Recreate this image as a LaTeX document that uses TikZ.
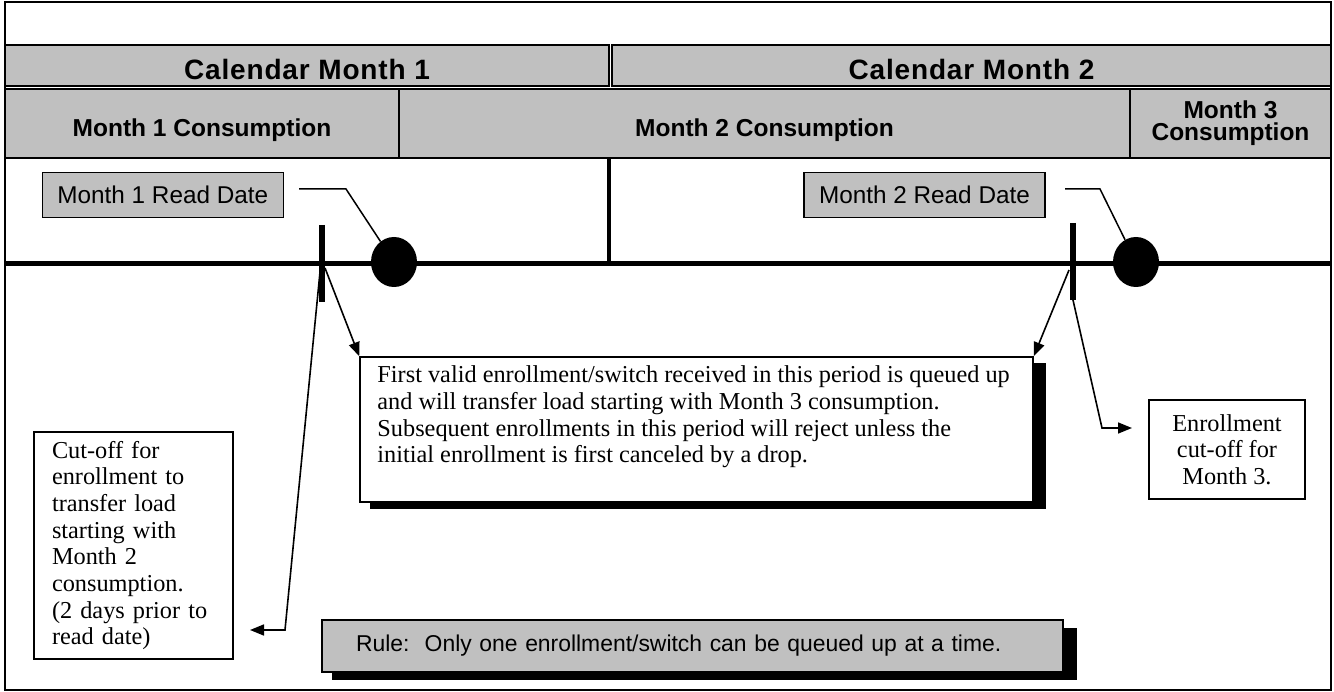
\documentclass[tikz,border=0pt]{standalone}
\usepackage{fontspec}
\setmainfont{Liberation Serif}
\newfontfamily\lsans{Liberation Sans}
\usetikzlibrary{shapes.geometric,arrows.meta}
\definecolor{boxgray}{RGB}{192,192,192}
\newcommand\calfont{\lsans\bfseries\fontsize{28}{30}\selectfont\addfontfeature{LetterSpace=3}}
\newcommand\consfont{\lsans\bfseries\fontsize{24.5}{23}\selectfont}
\newcommand\datefont{\lsans\fontsize{24.3}{26}\selectfont}
\newcommand\rulefont{\lsans\fontsize{22.9}{26}\selectfont}
\newcommand\notefont{\rmfamily\fontsize{24.3}{26.7}\selectfont}
\begin{document}
\begin{tikzpicture}[x=1pt,y=-1pt,
  cell/.style={draw, line width=2.5pt, fill=boxgray, inner sep=0pt},
  datebox/.style={draw, line width=1.5pt, fill=boxgray, inner sep=0pt, minimum width=241, minimum height=44.6, font=\datefont},
  notebox/.style={draw, line width=1.5pt, fill=white, inner sep=0pt, font=\notefont},
  notetext/.style={inner sep=0pt, align=left, font=\notefont},
  dot/.style={ellipse, fill=black, minimum width=46, minimum height=50, inner sep=0pt},
  tickmark/.style={line width=6pt},
  arr/.style={line width=1.6pt, -{Triangle[length=14pt,width=11pt]}},
  lead/.style={line width=1.5pt},
  shadow/.style={fill=black}
]
\useasboundingbox (0,0) rectangle (1334,692);
% frame
\draw[line width=2pt] (5,2) rectangle (1331,690);
% calendar row
\node[cell, minimum width=604, minimum height=41, text height=29pt, text depth=0pt, font=\calfont] (cal1) at (307,65.5) {Calendar Month 1};
\node[cell, minimum width=719, minimum height=41, text height=29pt, text depth=0pt, font=\calfont] (cal2) at (971.5,65.5) {Calendar Month 2};
% consumption row
\node[cell, minimum width=394, minimum height=69, text height=27pt, text depth=0pt, font=\consfont] (cons1) at (202,123.5) {Month 1 Consumption};
\node[cell, minimum width=731, minimum height=69, text height=27pt, text depth=0pt, font=\consfont] (cons2) at (764.5,123.5) {Month 2 Consumption};
\node[cell, minimum width=201, minimum height=69, align=center, font=\consfont] (cons3) at (1230.5,123.5) {Month 3\\[-1pt]Consumption};
% timeline
\coordinate (tlL) at (5,264);
\coordinate (tlR) at (1331,264);
\draw[line width=5pt] (tlL) -- (tlR);
\coordinate (divT) at (609,158);
\coordinate (divB) at (609,264);
\draw[line width=3.5pt] (divT) -- (divB);
% read dates
\node[datebox] (rd1) at (162.8,195) {Month 1 Read Date};
\node[datebox] (rd2) at (924.5,195) {Month 2 Read Date};
% dots
\node[dot] (c1) at (394,262) {};
\node[dot] (c2) at (1136,262) {};
% leaders
\coordinate (l1a) at (299,189);
\coordinate (l1b) at (346,189);
\draw[lead] (l1a) -- (l1b) -- (c1);
\coordinate (l2a) at (1065,189);
\coordinate (l2b) at (1100,189);
\draw[lead] (l2a) -- (l2b) -- (c2);
% ticks
\coordinate (t1a) at (321.5,225);
\coordinate (t1b) at (321.5,302);
\draw[tickmark] (t1a) -- (t1b);
\coordinate (t2a) at (1072.5,223);
\coordinate (t2b) at (1072.5,300);
\draw[tickmark] (t2a) -- (t2b);
% big note box
\fill[shadow] (370,363) rectangle (1046,509);
\node[notebox, minimum width=673, minimum height=145] (q) at (696.5,429.5) {};
\node[notetext, anchor=north west] (qt) at ([shift={(18,9.5)}]q.north west) {First valid enrollment/switch received in this period is queued up\\and will transfer load starting with Month 3 consumption.\\Subsequent enrollments in this period will reject unless the\\initial enrollment is first canceled by a drop.};
% left box
\node[notebox, minimum width=199, minimum height=227, text width=163, inner xsep=18pt, align=left] (lb) at (133.5,545.5) {Cut-off for\\enrollment to\\transfer load\\starting with\\Month 2\\consumption.\\(2 days prior to\\read date)};
% right box
\node[notebox, minimum width=156, minimum height=99, align=center] (rb) at (1227,449.5) {Enrollment\\cut-off for\\Month 3.};
% rule box
\fill[shadow] (332,628) rectangle (1077,680);
\node[draw, line width=1.5pt, fill=boxgray, inner ysep=0pt, inner xsep=34pt, text width=673, minimum height=52, align=left, font=\rulefont] (rule) at (692.5,646) {Rule:\ \ Only one enrollment/switch can be queued up at a time.};
% arrows
\coordinate (a1) at (325,268);
\draw[arr] (a1) -- (q.north west);
\coordinate (a2) at (320,272);
\coordinate (a2b) at (285,630);
\coordinate (a2e) at (250,630);
\draw[arr] (a2) -- (a2b) -- (a2e);
\coordinate (a3) at (1069,270);
\draw[arr] (a3) -- (q.north east);
\coordinate (a4) at (1073,300);
\coordinate (a4b) at (1102,428);
\coordinate (a4e) at (1132,428);
\draw[arr] (a4) -- (a4b) -- (a4e);
\end{tikzpicture}
\end{document}
